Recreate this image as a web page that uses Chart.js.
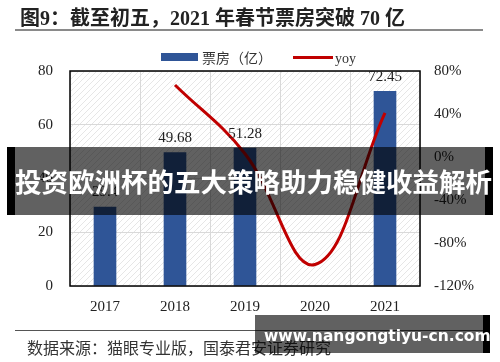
<!DOCTYPE html>
<html>
<head>
<meta charset="utf-8">
<script src="https://cdn.jsdelivr.net/npm/chart.js@4"></script>
<style>
  body { margin: 0; background: #fff; }
  #wrap { position: relative; width: 500px; height: 362px; overflow: hidden; font-family: "Liberation Serif", "Noto Sans CJK SC", serif; }
  #wrap canvas { position: absolute; left: 0; top: 0; }
  .title { position: absolute; left: 20px; top: 2px; font-size: 20px; font-weight: bold; color: #222; white-space: nowrap; }
  .rule { position: absolute; left: 15px; width: 468px; height: 2px; background: #8a8a8a; }
  .legend { position: absolute; top: 48px; height: 18px; display: flex; align-items: center; font-size: 14px; color: #333; white-space: nowrap; }
  .src { position: absolute; left: 27px; top: 335px; font-size: 16px; color: #333; white-space: nowrap; }
  .banner { position: absolute; left: 7px; top: 147px; width: 486px; height: 68px; background: rgba(0,0,0,0.62);
    border-left: 8px solid #000; border-right: 8px solid #000; box-sizing: border-box;
    color: #fff; font-family: "Noto Sans CJK SC", sans-serif; font-weight: bold; font-size: 26.5px;
    line-height: 68px; text-align: center; white-space: nowrap; }
  .mark { position: absolute; left: 255px; top: 315px; width: 235px; height: 38px; background: rgba(0,0,0,0.62);
    border-right: 7px solid #000; box-sizing: border-box; color: #fff; font-family: "DejaVu Sans", sans-serif;
    font-weight: bold; font-size: 15.5px; line-height: 42px; padding-left: 9px; white-space: nowrap; }
</style>
</head>
<body>
<div id="wrap">
  <canvas id="chart" width="500" height="362"></canvas>
  <div class="title">图9：截至初五，2021 年春节票房突破 70 亿</div>
  <div class="rule" style="top:29px"></div>
  <div class="legend" style="left:161px"><span style="display:inline-block;width:37px;height:8px;background:#2f5597;margin-right:4px"></span>票房（亿）</div>
  <div class="legend" style="left:293px"><span style="display:inline-block;width:40px;height:3px;background:#c00000;margin-right:2px"></span><span style="position:relative;top:2px">yoy</span></div>
  <div class="rule" style="top:330px;height:1px;background:#555"></div>
  <div class="src">数据来源：猫眼专业版，国泰君安证券研究</div>
  <div class="banner">投资欧洲杯的五大策略助力稳健收益解析</div>
  <div class="mark">www.nangongtiyu-cn.com</div>
</div>
<script>
// chart data
const years = ['2017', '2018', '2019', '2020', '2021'];
const boxOffice = [29.4, 49.68, 51.28, null, 72.45];
const yoy = [null, 67, 3, -100, 41];
const leftTicks = [0, 20, 40, 60, 80];
const rightTicks = [-120, -80, -40, 0, 40, 80];

const tickFont = { family: 'Liberation Serif', size: 15 };

// hatched plot background
function hatch() {
  const c = document.createElement('canvas');
  c.width = 6; c.height = 6;
  const g = c.getContext('2d');
  g.strokeStyle = '#e6e6e6';
  g.lineWidth = 1;
  g.beginPath();
  g.moveTo(0, 6); g.lineTo(6, 0);
  g.moveTo(-1, 1); g.lineTo(1, -1);
  g.moveTo(5, 7); g.lineTo(7, 5);
  g.stroke();
  return g.createPattern(c, 'repeat');
}

const plotDecor = {
  id: 'plotDecor',
  beforeDraw(chart) {
    const { ctx, chartArea: a } = chart;
    ctx.save();
    ctx.fillStyle = hatch();
    ctx.fillRect(a.left, a.top, a.right - a.left, a.bottom - a.top);
    ctx.restore();
  },
  afterDatasetsDraw(chart) {
    const { ctx, chartArea: a } = chart;
    ctx.save();
    ctx.strokeStyle = '#000';
    ctx.lineWidth = 1.5;
    ctx.strokeRect(a.left, a.top, a.right - a.left, a.bottom - a.top);
    // bar value labels
    ctx.font = '15px "Liberation Serif"';
    ctx.fillStyle = '#222';
    ctx.textAlign = 'center';
    ctx.textBaseline = 'bottom';
    chart.getDatasetMeta(0).data.forEach((bar, i) => {
      if (boxOffice[i] == null) return;
      ctx.fillText(String(boxOffice[i]), bar.x, bar.y - 7);
    });
    ctx.restore();
  }
};

new Chart(document.getElementById('chart'), {
  type: 'bar',
  data: {
    labels: years,
    datasets: [
      {
        label: '票房（亿）',
        data: boxOffice,
        backgroundColor: '#2f5597',
        barThickness: 22,
        yAxisID: 'y',
        order: 2
      },
      {
        type: 'line',
        label: 'yoy',
        data: yoy,
        borderColor: '#c00000',
        borderWidth: 3,
        pointRadius: 0,
        tension: 0.4,
        yAxisID: 'y1',
        order: 1
      }
    ]
  },
  options: {
    responsive: false,
    animation: false,
    layout: { padding: { top: 71, left: 0, right: 0, bottom: 0 } },
    plugins: { legend: { display: false }, tooltip: { enabled: false } },
    scales: {
      x: {
        grid: { color: '#d9d9d9', offset: true, drawTicks: false },
        border: { display: false },
        ticks: { font: tickFont, color: '#222', padding: 12 },
        afterFit(s) { s.height = 76; }
      },
      y: {
        position: 'left',
        min: 0, max: 80,
        afterBuildTicks(s) { s.ticks = leftTicks.map(v => ({ value: v })); },
        grid: { color: '#d9d9d9', drawTicks: false },
        border: { display: false },
        ticks: { font: tickFont, color: '#222', padding: 17 },
        afterFit(s) { s.width = 70; }
      },
      y1: {
        position: 'right',
        min: -120, max: 80,
        afterBuildTicks(s) { s.ticks = rightTicks.map(v => ({ value: v })); },
        grid: { drawOnChartArea: false, drawTicks: false },
        border: { display: false },
        ticks: { font: tickFont, color: '#222', padding: 14, callback: v => v + '%' },
        afterFit(s) { s.width = 80; }
      }
    }
  },
  plugins: [plotDecor]
});
</script>
</body>
</html>
